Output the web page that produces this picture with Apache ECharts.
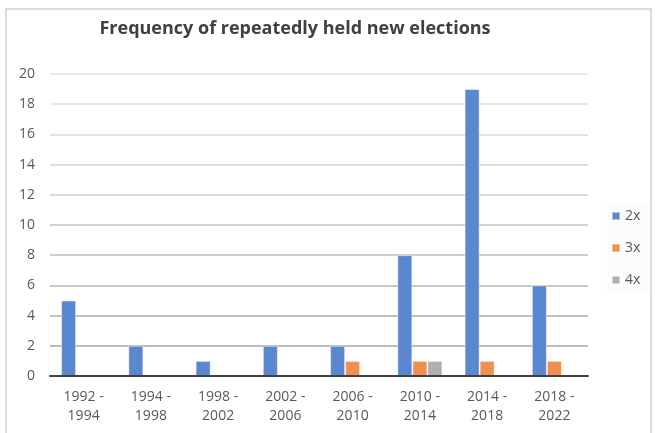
<!DOCTYPE html>
<html>
<head>
<meta charset="utf-8">
<script src="https://cdn.jsdelivr.net/npm/echarts@6/dist/echarts.min.js"></script>
<style>
  html, body { margin: 0; padding: 0; background: #fff; }
  #chart { width: 655px; height: 433px; }
</style>
</head>
<body>
<div id="chart"></div>
<script>
// data
var periods = ['1992 - 1994', '1994 - 1998', '1998 - 2002', '2002 - 2006',
               '2006 - 2010', '2010 - 2014', '2014 - 2018', '2018 - 2022'];
var twice  = [5, 2, 1, 2, 2, 8, 19, 6];
var thrice = [0, 0, 0, 0, 1, 1, 1, 1];
var four   = [0, 0, 0, 0, 0, 1, 0, 0];

var myChart = echarts.init(document.getElementById('chart'));

function bar(name, data, color) {
    return {
        name: name,
        type: 'bar',
        data: data,
        barGap: 0,
        barCategoryGap: '33%',
        z: 1,
        itemStyle: { color: color, borderColor: 'rgba(255,255,255,0.45)', borderWidth: 1 }
    };
}

// grid lines get lighter towards the top, like the original
var gridColors = ['#a6a6a6', '#a6a6a6', '#acacac', '#b4b4b4', '#bcbcbc', '#c4c4c4',
                  '#cccccc', '#d3d3d3', '#d9d9d9', '#dfdfdf', '#e3e3e3'];

var option = {
    animation: false,
    textStyle: { fontFamily: 'Open Sans' },
    title: {
        text: 'Frequency of repeatedly held new elections',
        left: 290,
        textAlign: 'center',
        top: 15,
        textStyle: { fontSize: 18, fontWeight: 'bold', color: '#404040' }
    },
    legend: {
        orient: 'vertical',
        left: 607,
        top: 203,
        itemWidth: 8,
        itemHeight: 8,
        itemGap: 18,
        icon: 'rect',
        backgroundColor: '#fbfbfb',
        padding: [6, 8, 6, 4],
        textStyle: { fontSize: 14, color: '#595959' },
        data: ['2x', '3x', '4x']
    },
    grid: { left: 50, right: 67, top: 74, bottom: 57 },
    xAxis: {
        type: 'category',
        data: periods,
        z: 5,
        axisLine: { lineStyle: { color: '#404040', width: 2 } },
        axisTick: { show: false },
        axisLabel: {
            interval: 0,
            margin: 12,
            lineHeight: 19,
            color: '#595959',
            fontSize: 14,
            formatter: function (v) { return v.replace(' - ', ' -\n'); }
        }
    },
    yAxis: {
        type: 'value',
        min: 0,
        max: 20,
        interval: 2,
        axisLine: { show: false },
        axisTick: { show: false },
        axisLabel: { color: '#595959', fontSize: 14, margin: 15 },
        splitLine: { lineStyle: { color: gridColors, width: 1.5 } }
    },
    graphic: [{
        type: 'rect',
        shape: { x: 6, y: 9, width: 645, height: 440 },
        style: { fill: 'none', stroke: '#d0d0d0', lineWidth: 1.5 },
        silent: true
    }],
    series: [
        bar('2x', twice, '#5b86d0'),
        bar('3x', thrice, '#ef8f50'),
        bar('4x', four, '#b0b0b0')
    ]
};

myChart.setOption(option);
</script>
</body>
</html>
